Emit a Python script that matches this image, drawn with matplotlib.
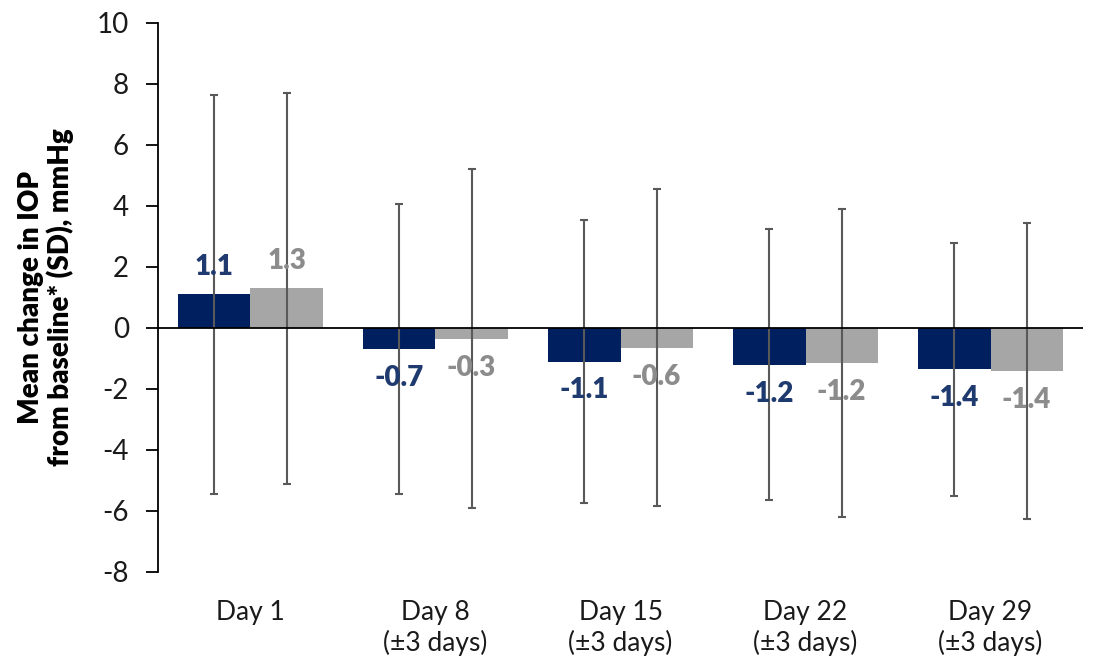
import matplotlib.pyplot as plt
import numpy as np

plt.rcParams['font.family'] = ['Lato', 'DejaVu Sans']
plt.rcParams['axes.unicode_minus'] = False

#data
days = ['Day 1', 'Day 8\n(\u00b13 days)', 'Day 15\n(\u00b13 days)', 'Day 22\n(\u00b13 days)', 'Day 29\n(\u00b13 days)']
navy_mean = [1.1, -0.7, -1.1, -1.2, -1.35]
gray_mean = [1.3, -0.35, -0.65, -1.15, -1.4]
navy_sd = [6.55, 4.75, 4.65, 4.45, 4.15]
gray_sd = [6.4, 5.55, 5.2, 5.05, 4.85]
navy_lbl = ['1.1', '-0.7', '-1.1', '-1.2', '-1.4']
gray_lbl = ['1.3', '-0.3', '-0.6', '-1.2', '-1.4']

navy = '#001F5F'
gray = '#A6A6A6'
navy_txt = '#1F3A6E'
gray_txt = '#8C8C8C'
err_col = '#595959'

fig = plt.figure(figsize=(10.94, 6.64), dpi=100)
ax = fig.add_axes([0.1444, 0.1386, 0.8456, 0.8268])

x = np.arange(len(days))
w = 0.39

ax.bar(x - w/2, navy_mean, w, color=navy, zorder=2)
ax.bar(x + w/2, gray_mean, w, color=gray, zorder=2)
ax.errorbar(x - w/2, navy_mean, yerr=navy_sd, fmt='none', ecolor=err_col,
            elinewidth=1.5, capsize=3, capthick=1.5, zorder=3)
ax.errorbar(x + w/2, gray_mean, yerr=gray_sd, fmt='none', ecolor=err_col,
            elinewidth=1.5, capsize=3, capthick=1.5, zorder=3)

#value labels above positive bars, below negative bars
for i in range(len(days)):
    for xv, v, t, c in [(x[i] - w/2, navy_mean[i], navy_lbl[i], navy_txt),
                        (x[i] + w/2, gray_mean[i], gray_lbl[i], gray_txt)]:
        yv = v + 0.9 if v > 0 else v - 0.95
        ax.text(xv, yv, t, ha='center', va='center', fontsize=20,
                fontweight='heavy', color=c, zorder=4)

ax.axhline(0, color='black', lw=1.3, zorder=3)

ax.set_xlim(-0.5, 4.5)
ax.set_ylim(-8, 10)
ax.set_yticks(np.arange(-8, 11, 2))
ax.set_xticks(x)
ax.set_xticklabels(days, fontsize=19, color='#1a1a1a', linespacing=1.25)
ax.tick_params(axis='x', length=0, pad=20)
ax.tick_params(axis='y', labelsize=20, length=9, width=1.3, direction='out', pad=12,
               labelcolor='#1a1a1a')
for s in ['top', 'right', 'bottom']:
    ax.spines[s].set_visible(False)
ax.spines['left'].set_linewidth(1.3)

ax.set_ylabel('Mean change in IOP\nfrom baseline* (SD), mmHg', fontsize=20,
              fontweight='heavy', linespacing=1.1, labelpad=16)

plt.savefig('out.png', dpi=100)
